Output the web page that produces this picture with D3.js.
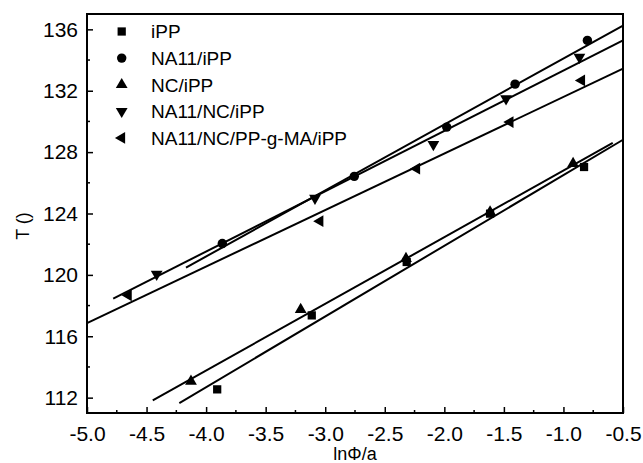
<!DOCTYPE html>
<html>
<head>
<meta charset="utf-8">
<script src="https://cdn.jsdelivr.net/npm/d3@7"></script>
<style>
  html, body { margin: 0; padding: 0; background: #fff; }
  svg { display: block; }
  text { font-family: "Liberation Sans", Arial, sans-serif; fill: #000; }
</style>
</head>
<body>
<svg id="chart" width="643" height="463"></svg>
<script>
// ---- data ----
const seriesNames = ["iPP", "NA11/iPP", "NC/iPP", "NA11/NC/iPP", "NA11/NC/PP-g-MA/iPP"];
const xIPP = [-3.907, -3.113, -2.316, -1.616, -0.827];
const yIPP = [112.54, 117.36, 120.84, 123.99, 127.03];
const xNA11 = [-3.864, -2.756, -1.98, -1.406, -0.799];
const yNA11 = [122.04, 126.42, 129.63, 132.43, 135.28];
const xNC = [-4.127, -3.206, -2.322, -1.616, -0.919];
const yNC = [113.07, 117.74, 121.06, 124.10, 127.25];
const xNA11NC = [-4.415, -3.086, -2.092, -1.482, -0.866];
const yNA11NC = [120.04, 125.0, 128.5, 131.48, 134.19];
const xNA11NCMA = [-4.653, -3.044, -2.232, -1.448, -0.847];
const yNA11NCMA = [118.67, 123.5, 126.92, 129.96, 132.67];
// linear fits: slope, intercept, x range
const fitSlope = [4.607, 4.30, 4.342, 3.932, 3.684];
const fitIntercept = [131.11, 138.40, 131.14, 137.25, 135.28];
const fitStart = [-4.225, -4.169, -4.448, -4.78, -5.0];
const fitEnd = [-0.5, -0.5, -0.586, -0.5, -0.5];
const xTicks = [-5.0, -4.5, -4.0, -3.5, -3.0, -2.5, -2.0, -1.5, -1.0, -0.5];
const yTicks = [112, 116, 120, 124, 128, 132, 136];
const xLabel = "lnΦ/a";
const yLabel = "T ()";

const xs = [xIPP, xNA11, xNC, xNA11NC, xNA11NCMA];
const ys = [yIPP, yNA11, yNC, yNA11NC, yNA11NCMA];

// ---- layout ----
const margin = {left: 87, top: 14, right: 20, bottom: 50};
const W = 643, H = 463;
const iw = W - margin.left - margin.right; // 536
const ih = H - margin.top - margin.bottom; // 399

const svg = d3.select("#chart");
const g = svg.append("g").attr("transform", `translate(${margin.left},${margin.top})`);

const x = d3.scaleLinear().domain([-5.0, -0.5]).range([0, iw]);
const y = d3.scaleLinear().domain([111, 137]).range([ih, 0]);

// minor ticks
const xMinor = d3.range(-5.0, -0.49, 0.25).filter(v => Math.abs(v * 2 - Math.round(v * 2)) > 1e-6);
const yMinor = d3.range(112, 137, 2).filter(v => v % 4 !== 0);

const fmtX = v => v.toFixed(1);
const xAxis = d3.axisBottom(x).tickValues(xTicks).tickFormat(fmtX).tickSizeInner(-6).tickSizeOuter(0).tickPadding(14);
const yAxis = d3.axisLeft(y).tickValues(yTicks).tickFormat(d => String(d)).tickSizeInner(-6).tickSizeOuter(0).tickPadding(9);

const gx = g.append("g").attr("transform", `translate(0,${ih})`).call(xAxis);
const gy = g.append("g").call(yAxis);
[gx, gy].forEach(a => {
  a.selectAll(".domain").remove();
  a.selectAll("line").attr("stroke", "#000").attr("stroke-width", 1.5);
  a.selectAll("text").style("font-size", "21px").attr("fill", "#000");
});
gx.selectAll("text").attr("dy", "0.66em");

g.append("g").selectAll("line").data(xMinor).join("line")
  .attr("x1", d => x(d)).attr("x2", d => x(d)).attr("y1", ih).attr("y2", ih - 3)
  .attr("stroke", "#000").attr("stroke-width", 1.5);
g.append("g").selectAll("line").data(yMinor).join("line")
  .attr("x1", 0).attr("x2", 3).attr("y1", d => y(d)).attr("y2", d => y(d))
  .attr("stroke", "#000").attr("stroke-width", 1.5);

// frame
g.append("rect").attr("x", 0).attr("y", 0).attr("width", iw).attr("height", ih)
  .attr("fill", "none").attr("stroke", "#000").attr("stroke-width", 2);

// fit lines
const fits = fitSlope.map((s, i) => [
  [fitStart[i], fitIntercept[i] + s * fitStart[i]],
  [fitEnd[i], fitIntercept[i] + s * fitEnd[i]]
]);
const line = d3.line().x(d => x(d[0])).y(d => y(d[1]));
g.append("g").selectAll("path").data(fits).join("path")
  .attr("d", line).attr("fill", "none").attr("stroke", "#000").attr("stroke-width", 2);

// symbols
const symTypes = [d3.symbolSquare, d3.symbolCircle, d3.symbolTriangle, d3.symbolTriangle, d3.symbolTriangle];
const symSizes = [68, 70, 60, 60, 60];
const symRot = [0, 0, 0, 180, -90];
const symPath = i => d3.symbol().type(symTypes[i]).size(symSizes[i])();

xs.forEach((xa, i) => {
  g.append("g").selectAll("path").data(xa.map((v, j) => [v, ys[i][j]])).join("path")
    .attr("d", symPath(i))
    .attr("transform", d => `translate(${x(d[0])},${y(d[1])}) rotate(${symRot[i]})`)
    .attr("fill", "#000");
});

// legend
const legY0 = 31.5 - margin.top, legDy = 26.6;
const leg = g.append("g");
seriesNames.forEach((name, i) => {
  const cy = legY0 + i * legDy;
  leg.append("path").attr("d", symPath(i))
    .attr("transform", `translate(${121.7 - margin.left},${cy}) rotate(${symRot[i]})`)
    .attr("fill", "#000");
  leg.append("text").attr("x", 151 - margin.left).attr("y", cy + 6.8)
    .style("font-size", "19px").text(name);
});

// axis labels
svg.append("text").attr("x", 355).attr("y", 460).attr("text-anchor", "middle")
  .style("font-size", "18px").text(xLabel);
svg.append("text").attr("transform", "translate(29,226) rotate(-90)").attr("text-anchor", "middle")
  .style("font-size", "18px").text(yLabel);
</script>
</body>
</html>
